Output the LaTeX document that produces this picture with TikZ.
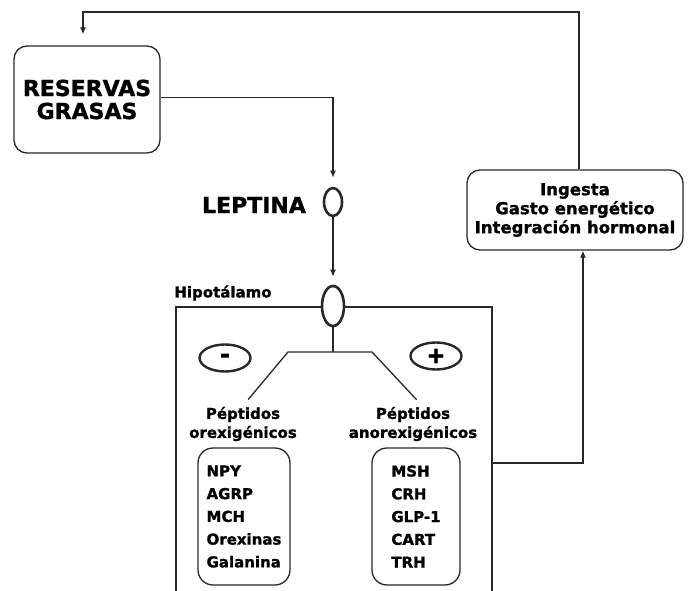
\documentclass[tikz,border=0pt]{standalone}
\usepackage{fontspec}
\setmainfont{DejaVu Sans}[BoldFeatures={FakeBold=1.2}]
\newfontfamily\signfont{DejaVu Sans}[FakeBold=4]
\usetikzlibrary{shapes.geometric, arrows.meta, positioning, calc}
\definecolor{linegray}{RGB}{40,40,40}

\begin{document}
\begin{tikzpicture}[
		x=1pt, y=-1pt,
		box/.style={rectangle, draw=linegray, line width=1.3pt, rounded corners=13pt,
			align=center, inner sep=0pt},
		recep/.style={ellipse, draw=linegray, line width=2.6pt, fill=white, inner sep=0pt},
		arrow/.style={-{Latex[length=7pt,width=6pt]}, line width=1.3pt, color=linegray},
		link/.style={line width=1.3pt, color=linegray},
		big/.style={font=\fontsize{22}{23}\selectfont\bfseries},
		mid/.style={font=\fontsize{16.5}{19}\selectfont\bfseries},
		small/.style={font=\fontsize{15}{19}\selectfont\bfseries},
		sign/.style={recep, line width=2.4pt, minimum width=51pt, minimum height=27pt,
			font=\fontsize{22}{22}\selectfont\signfont\bfseries},
		list/.style={box, rounded corners=15pt, align=left, minimum height=137pt,
			font=\fontsize{15}{22.75}\selectfont\bfseries}
		]
		\useasboundingbox (0,0) rectangle (689,591);

		% hipotalamo frame (open at the bottom)
		\draw[link] (176,591) |- (492,307) -- (492,591);

		\node[box, big, minimum width=146pt, minimum height=107pt] (reservas) at (87,99.5) {RESERVAS\\GRASAS};
		\node[box, mid, minimum width=216pt, minimum height=80pt] (ingesta) at (575,210) {Ingesta\\Gasto energético\\Integración hormonal};
		\node[big] (leptxt) at (254,205) {LEPTINA};
		\node[small] (hipotxt) at (223,293) {Hipotálamo};
		\node[recep, minimum width=18pt, minimum height=28pt] (lepoval) at (333,202) {};
		\node[recep, minimum width=22pt, minimum height=40pt] (hipoval) at (333,306) {};
		\node[sign] (minus) at (225,358) {-};
		\node[sign] (plus) at (436,356) {+};
		\node[small, align=center] (orex) at (243,424) {Péptidos\\orexigénicos};
		\node[small, align=center] (anorex) at (413,424) {Péptidos\\anorexigénicos};
		\node[list, minimum width=92pt] (orexlist) at (244,516.5) {NPY\\AGRP\\MCH\\Orexinas\\Galanina};
		\node[list, minimum width=88pt] (anorexlist) at (416,516.5) {MSH\\CRH\\GLP-1\\CART\\TRH};

		\coordinate (topleft) at (83,12);
		\coordinate (branch) at (333,352);
		\coordinate (bendL) at (288,352);
		\coordinate (bendR) at (372,352);
		\coordinate (hipoE) at (492,463);

		\draw[arrow, shorten >=11pt] ([xshift=4pt]ingesta.north) |- (topleft) -- (topleft |- reservas.north);
		\draw[arrow, shorten >=9pt] ([yshift=2pt]reservas.east) -| (lepoval.north);
		\draw[arrow, shorten >=8pt] (lepoval.south) -- (hipoval.north);
		\draw[link] (hipoval.south) -- (branch);
		\draw[link, shorten <=5pt, shorten >=5pt] ([xshift=2pt]orex.north) -- (bendL) -- (bendR) -- ([xshift=7pt]anorex.north);
		\draw[arrow] (hipoE) -| ([xshift=8pt]ingesta.south);
	\end{tikzpicture}
\end{document}
